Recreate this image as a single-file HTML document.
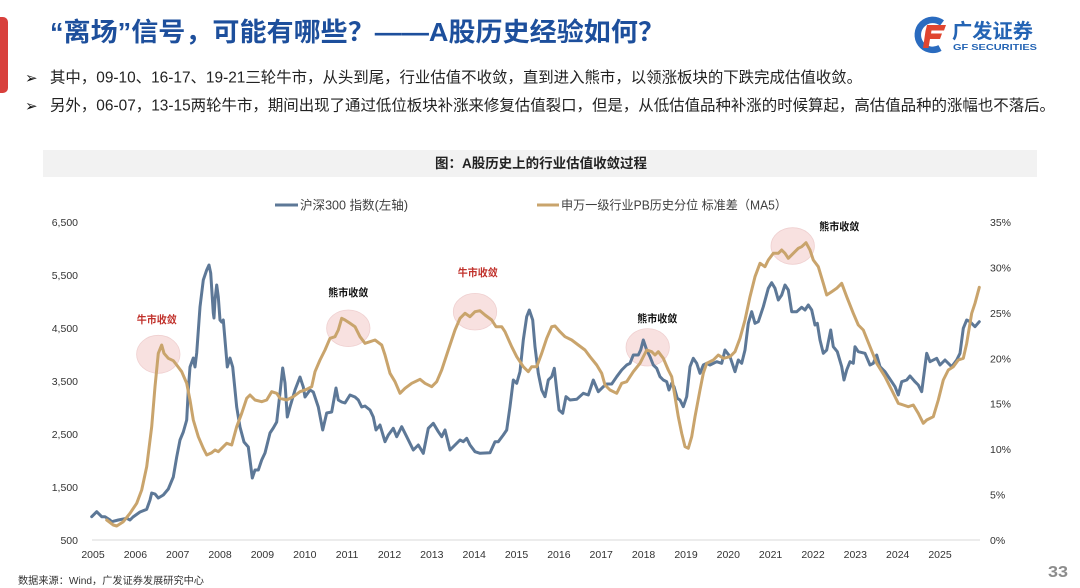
<!DOCTYPE html>
<html>
<head>
<meta charset="utf-8">
<style>
  html,body{margin:0;padding:0;background:#fff;}
  body{width:1080px;height:588px;overflow:hidden;}
  svg{display:block;}
  text{font-family:"Liberation Sans","Noto Sans CJK SC",sans-serif;}
</style>
</head>
<body>
<svg width="1080" height="588" viewBox="0 0 1080 588" xmlns="http://www.w3.org/2000/svg">
  <rect x="0" y="0" width="1080" height="588" fill="#ffffff"/>
  <!-- left red tab -->
  <rect x="-6" y="17" width="14" height="76" rx="5" fill="#d8403c"/>

  <!-- title -->
  <text x="50" y="41" font-size="26" font-weight="bold" fill="#1d4f9c" textLength="615" lengthAdjust="spacingAndGlyphs">“离场”信号，可能有哪些？——A股历史经验如何？</text>

  <!-- bullets -->
  <text x="25" y="83" font-size="15" fill="#111" style="font-family:'DejaVu Sans',sans-serif">➢</text>
  <text x="50" y="82.5" font-size="15.5" fill="#222" textLength="812" lengthAdjust="spacingAndGlyphs">其中，09-10、16-17、19-21三轮牛市，从头到尾，行业估值不收敛，直到进入熊市，以领涨板块的下跌完成估值收敛。</text>
  <text x="25" y="111" font-size="15" fill="#111" style="font-family:'DejaVu Sans',sans-serif">➢</text>
  <text x="50" y="110.5" font-size="15.5" fill="#222" textLength="1005" lengthAdjust="spacingAndGlyphs">另外，06-07，13-15两轮牛市，期间出现了通过低位板块补涨来修复估值裂口，但是，从低估值品种补涨的时候算起，高估值品种的涨幅也不落后。</text>

  <!-- logo -->
  <g>
    <path d="M942,23 A15,15 0 1 0 940,48" fill="none" stroke="#2a6bbf" stroke-width="6.5"/>
    <path d="M927,25 L946,25 L944,30.5 L931.5,30.5 L931,33.5 L942,33.5 L940,39 L930,39 L928.5,48 L923,48 L925.5,31 Z" fill="#e0452f"/>
    <text x="952" y="38" font-size="20" font-weight="bold" fill="#2464b4" textLength="81" lengthAdjust="spacingAndGlyphs">广发证券</text>
    <text x="953" y="50" font-size="8.5" font-weight="bold" fill="#2464b4" textLength="84" lengthAdjust="spacingAndGlyphs">GF SECURITIES</text>
  </g>

  <!-- chart title bar -->
  <rect x="43" y="150" width="994" height="27" fill="#f2f2f2"/>
  <text x="435" y="168" font-size="13.5" font-weight="bold" fill="#222" textLength="212" lengthAdjust="spacingAndGlyphs">图：A股历史上的行业估值收敛过程</text>

  <!-- legend -->
  <line x1="275" y1="205" x2="298" y2="205" stroke="#5d7897" stroke-width="3"/>
  <text x="300" y="209.5" font-size="12.5" fill="#404040" textLength="108" lengthAdjust="spacingAndGlyphs">沪深300 指数(左轴)</text>
  <line x1="537" y1="205" x2="559" y2="205" stroke="#c9a46c" stroke-width="3"/>
  <text x="561" y="209.5" font-size="12.5" fill="#404040" textLength="226" lengthAdjust="spacingAndGlyphs">申万一级行业PB历史分位 标准差（MA5）</text>

  <!-- left axis labels -->
  <g font-size="10.5" fill="#333" text-anchor="end">
    <text x="78" y="226">6,500</text>
    <text x="78" y="279">5,500</text>
    <text x="78" y="332">4,500</text>
    <text x="78" y="385">3,500</text>
    <text x="78" y="438">2,500</text>
    <text x="78" y="491">1,500</text>
    <text x="78" y="544">500</text>
  </g>
  <!-- right axis labels -->
  <g font-size="10.5" fill="#333">
    <text x="990" y="226">35%</text>
    <text x="990" y="271.4">30%</text>
    <text x="990" y="316.9">25%</text>
    <text x="990" y="362.3">20%</text>
    <text x="990" y="407.7">15%</text>
    <text x="990" y="453.1">10%</text>
    <text x="990" y="498.6">5%</text>
    <text x="990" y="544">0%</text>
  </g>
  <!-- x axis -->
  <line x1="92" y1="540" x2="980" y2="540" stroke="#d9d9d9" stroke-width="1"/>
  <g font-size="10.5" fill="#333" text-anchor="middle">
    <text x="93" y="558">2005</text>
    <text x="135.4" y="558">2006</text>
    <text x="177.7" y="558">2007</text>
    <text x="220" y="558">2008</text>
    <text x="262.4" y="558">2009</text>
    <text x="304.8" y="558">2010</text>
    <text x="347.1" y="558">2011</text>
    <text x="389.5" y="558">2012</text>
    <text x="431.8" y="558">2013</text>
    <text x="474.2" y="558">2014</text>
    <text x="516.5" y="558">2015</text>
    <text x="558.9" y="558">2016</text>
    <text x="601.2" y="558">2017</text>
    <text x="643.6" y="558">2018</text>
    <text x="686" y="558">2019</text>
    <text x="728.3" y="558">2020</text>
    <text x="770.6" y="558">2021</text>
    <text x="813" y="558">2022</text>
    <text x="855.3" y="558">2023</text>
    <text x="897.7" y="558">2024</text>
    <text x="940" y="558">2025</text>
  </g>

  <!-- highlight ellipses -->
  <g fill="#f6d9d8" fill-opacity="0.8" stroke="#efd0d0" stroke-width="0.8">
    <ellipse cx="158.3" cy="354.3" rx="21.7" ry="19"/>
    <ellipse cx="348.3" cy="328.3" rx="21.7" ry="18.3"/>
    <ellipse cx="475" cy="311.7" rx="21.7" ry="18.3"/>
    <ellipse cx="647.7" cy="347.3" rx="21.7" ry="18.7"/>
    <ellipse cx="792.7" cy="246" rx="21.7" ry="18.3"/>
  </g>

  <!-- blue series -->
  <polyline fill="none" stroke="#5d7897" stroke-width="3" stroke-linejoin="round" stroke-linecap="round" points="91.7,516.7 96.7,511.7 101.7,516.7 105,516.7 110,520 111.7,521.7 118.3,520 126.7,518.3 130,520 133,517 140,512 146.7,509.3 150,500 151.7,493 155,494 158.3,498 163.3,495 168.3,489 173.3,477 176.7,457 180,440 183.3,432 186.7,420 188.3,390 190,367 193.3,358 195,367 196.7,353 200,307 203.3,280 206.7,270 209,265 210.7,273 213.3,313 214,318 215,300 216.7,285 218.3,297 220,320 221.7,322 223.3,320 225,340 227.3,367 230,358 232.7,367 236.7,407 240,427 244,442 248.3,447 250,460 252.3,478 255,470 258.3,470 261.7,460 265,453 270,433 273.3,428 276.7,422 280,393 282.7,368 285,383 287.3,417 290,407 295,390 300,377 303.3,387 305,397 310,390 313.3,392 318.3,407 322.7,430 326.7,413 331.7,412 333.3,403 336,388 338.3,400 341.7,402 345,403 350,395 355,397 358.3,400 361.7,407 365,406 370,410 373.3,417 376,430 380,425 385,441.7 388.3,435 393.3,428.3 396.7,436.7 401.7,426.7 406.7,436.7 413.3,450 418.3,445 423.3,453.3 428.3,428.3 433.3,423.3 438.3,431.7 441.7,436.7 445,430 450,450 455,445 460,440 463.3,441.7 466.7,438.3 470,445 475,451.7 480,453.3 490,452.7 495,441.7 498.3,441.7 503.3,435 506.7,430 510,406.7 513.3,380 516.7,383.3 520,371.7 523.3,340 526.7,316.7 529.3,310 532.7,320 535,346.7 538.3,373.3 541.7,390 545,396.7 548.3,380 551.7,376.7 554.3,368.3 556.7,390 559,410 562.7,413.3 566,396.7 570,400 576.7,399.3 583.3,393.3 588.3,395 593.3,380 598.3,391.7 603.3,386.7 606.7,384 611.7,384 616.7,376.7 621.7,370 626.7,365 630,363.3 633.3,355 638.3,355 640.7,350 643.3,340 646.7,350 650,356.7 653.3,365 656.7,368.3 660,376.7 663.3,380 666.7,381.7 669,390 671.7,383.3 674,386.7 677.3,398.3 680,400 683.3,406.7 686.7,396.7 690,366.7 693.3,358.3 696.7,363.3 700,373.3 703.3,365 706.7,363.3 710,365 716.7,361.7 721.7,363.3 725,350 730,356.7 735,371.7 738.3,360 741.7,363.3 745,350 748.3,323.3 751.7,311.7 755,323.3 758.3,321.7 763.3,306.7 768.3,288.3 771.7,282.7 775,288.3 778.3,300 781.7,295 785,285 788.3,290 791.7,311.7 796.7,311.7 801.7,307.3 805,310 808.3,305 811.7,310 815,325 817.3,323.3 820,340 823.3,353.3 826.7,350 830.7,330 833.3,346.7 837.3,351.7 841.7,366.7 844,380 846.7,370 850,361.7 853.3,363.3 855,346.7 858.3,351.7 865,353.3 870,365 873.3,363.3 876.7,355 880,366.7 885,371.7 891.7,381.7 895,386.7 898.3,395 901.7,381.7 906.7,380 910,376 915,381.7 918.3,385 921.7,391.7 926.7,353.3 930,361.7 936.7,358.3 940,365 945,360 951.7,366.7 956.7,360 960,353.3 963.3,328.3 966.7,320 970,321.7 975,326.7 979.3,321.7"/>

  <!-- gold series -->
  <polyline fill="none" stroke="#c9a46c" stroke-width="3" stroke-linejoin="round" stroke-linecap="round" points="106.7,520 113.3,525 116.7,526 123.3,521.7 130,513.3 136.7,503.3 141.7,490 146.7,466.7 151.7,426.7 155,386.7 158.3,353.3 161.7,345 164,353.3 168.3,358.3 173.3,360.7 176.7,365 181.7,371.7 186.7,383.3 190,400 193.3,420 198.3,436.7 203.3,448.3 206.7,455 211.7,452.7 215,450 218.3,451.7 223.3,446.7 226.7,443.3 231.7,445 236.7,426.7 241.7,413.3 246.7,398.3 250,395 255,400 261.7,401.7 266.7,400 271.7,391.7 276.7,393.3 280,398.3 286.7,400 293.3,396.7 300,391.7 306.7,389.3 311.7,386.7 315,371.7 320,360 325,350 330,338.3 335,336.7 338.3,330 341.7,318.3 345,320 350,323.3 355,326.7 360,336.7 365,343.3 370,341.7 375,340 381.7,345 385,355 390,373.3 395,381.7 400,393.3 405,388.3 411.7,383.3 420,379.3 425,383.3 431.7,386.7 436.7,381.7 441.7,370 448.3,350 455,330 460,318.3 465,313.3 470,316.7 475,311.7 480,310.7 485,315 491.7,320 496,326.7 501.7,326.7 505,331.7 511.7,346.7 516.7,356.7 523.3,366.7 528.3,371.7 531.7,366.7 536.7,366.7 541.7,353.3 546.7,338.3 551.7,326.7 555,326 560,331.7 565,336.7 571.7,340 578.3,345 585,350 590,356.7 596.7,365 601.7,373.3 605,385 610,390 616.7,393.3 621.7,383.3 626.7,381.7 633.3,371.7 640,363.3 646.7,350 651.7,351.7 655,355 658.3,351.7 663.3,358.3 668.3,370 671.7,376.7 675,396.7 678.3,416.7 681.7,433.3 685,446.7 688.3,448.3 691.7,436.7 695,416.7 700,390 703.3,373.3 706.7,363.3 713.3,360 718.3,355 723.3,358.3 730,356.7 735,351.7 740,338.3 745,320 750,296.7 755,276.7 760,263.3 765,266.7 768.3,260 773.3,253.3 778.3,253.3 781.7,250 785,253.3 788.3,258.3 793.3,253.3 798.3,248.3 801.7,246.7 806,242.7 810,250 813.3,260 818.3,266.7 823.3,283.3 826.7,295 831.7,291.7 836.7,288.3 841.7,283.3 846.7,296.7 853.3,313.3 858.3,325 863.3,330 870,346.7 876.7,363.3 885,376.7 891.7,390 898.3,403.3 903.3,405 908.3,406.7 913.3,405 918.3,413.3 923.3,423.3 926.7,420 933.3,416.7 938.3,400 943.3,380 948.3,370 953.3,366.7 958.3,360 963.3,358.3 966.7,343.3 971.7,313.3 975,303.3 979.3,287.3"/>

  <!-- annotations -->
  <g font-size="10.5" font-weight="bold" text-anchor="middle">
    <text x="156.7" y="323" fill="#c0302a" textLength="40" lengthAdjust="spacingAndGlyphs">牛市收敛</text>
    <text x="348.3" y="296" fill="#111" textLength="40" lengthAdjust="spacingAndGlyphs">熊市收敛</text>
    <text x="477.7" y="276" fill="#c0302a" textLength="40" lengthAdjust="spacingAndGlyphs">牛市收敛</text>
    <text x="657.3" y="322" fill="#111" textLength="40" lengthAdjust="spacingAndGlyphs">熊市收敛</text>
    <text x="839.3" y="230" fill="#111" textLength="40" lengthAdjust="spacingAndGlyphs">熊市收敛</text>
  </g>

  <!-- source -->
  <text x="18" y="584" font-size="10" fill="#333" textLength="186" lengthAdjust="spacingAndGlyphs">数据来源：Wind，广发证券发展研究中心</text>
  <!-- page number -->
  <text x="1048" y="577" font-size="16" font-weight="bold" fill="#8c8c8c" textLength="20" lengthAdjust="spacingAndGlyphs">33</text>
</svg>
</body>
</html>
